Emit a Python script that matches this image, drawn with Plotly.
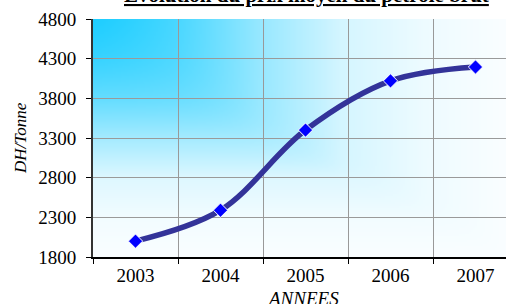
import base64
import struct
import zlib

import numpy as np
import plotly.graph_objects as go

# ---- data ----
years = ["2003", "2004", "2005", "2006", "2007"]
prix = [2000, 2390, 3400, 4020, 4195]
y_ticks = [1800, 2300, 2800, 3300, 3800, 4300, 4800]

title_text = "Evolution du prix moyen du pétrole brut"
x_title = "ANNEES"
y_title = "DH/Tonne"

SERIF = "Liberation Serif, Times New Roman, serif"

# gradient profile (fraction of cyan vs position)
grad_pos_x = [0.0, 0.2, 0.4, 0.6, 0.8, 1.0]
grad_val_x = [1.0, 0.74, 0.42, 0.17, 0.07, 0.02]
grad_pos_y = [0.0, 0.17, 0.34, 0.5, 0.67, 0.84, 1.0]
grad_val_y = [1.0, 0.82, 0.61, 0.36, 0.13, 0.05, 0.02]


# ---- background gradient image (styling only) ----
def gradient_png(w, h):
    u = np.linspace(0, 1, w)
    v = np.linspace(0, 1, h)
    g = np.interp(u, grad_pos_x, grad_val_x)[None, :]
    hh = np.interp(v, grad_pos_y, grad_val_y)[:, None]
    p = 6.0
    f = (g ** -p + hh ** -p) ** (-1.0 / p)
    f = np.clip(f * 1.08, 0, 1)
    r = 255 - f * (255 - 22)
    gg = 255 - f * (255 - 204)
    b = np.full_like(r, 255)
    img = np.stack([r, gg, b], axis=-1).astype(np.uint8)
    raw = b"".join(b"\x00" + img[i].tobytes() for i in range(h))

    def chunk(tag, data):
        c = struct.pack(">I", len(data)) + tag + data
        return c + struct.pack(">I", zlib.crc32(tag + data) & 0xFFFFFFFF)

    png = b"\x89PNG\r\n\x1a\n"
    png += chunk(b"IHDR", struct.pack(">IIBBBBB", w, h, 8, 2, 0, 0, 0))
    png += chunk(b"IDAT", zlib.compress(raw, 9))
    png += chunk(b"IEND", b"")
    return "data:image/png;base64," + base64.b64encode(png).decode()


fig = go.Figure()
fig.add_trace(
    go.Scatter(
        x=years,
        y=prix,
        mode="lines+markers",
        line=dict(color="#333399", width=5.5, shape="spline", smoothing=1.0),
        marker=dict(symbol="diamond", size=11, color="#0000FF",
                    line=dict(color="white", width=1)),
        showlegend=False,
        hoverinfo="x+y",
    )
)

plot_w = 413
plot_h = 238

fig.update_layout(
    width=506,
    height=304,
    margin=dict(l=93, r=0, t=19, b=47),
    paper_bgcolor="white",
    plot_bgcolor="white",
    font=dict(family=SERIF, color="black"),
    images=[
        dict(
            source=gradient_png(206, 119),
            xref="paper", yref="paper",
            x=0, y=1, sizex=1, sizey=1,
            xanchor="left", yanchor="top",
            sizing="stretch", layer="below",
        )
    ],
    xaxis=dict(
        type="category",
        range=[-0.5, -0.5 + plot_w / 85.0],
        tickson="boundaries",
        ticks="outside",
        ticklen=5,
        tickcolor="black",
        showline=True,
        linecolor="black",
        linewidth=1.5,
        showgrid=True,
        gridcolor="#999999",
        gridwidth=1,
        tickfont=dict(family=SERIF, size=19, color="black"),
        fixedrange=True,
    ),
    yaxis=dict(
        range=[1800, 4800],
        tickvals=y_ticks,
        ticks="outside",
        ticklen=5,
        tickcolor="black",
        showline=True,
        linecolor="#333333",
        linewidth=2,
        showgrid=True,
        gridcolor="#9a9a9a",
        gridwidth=1.2,
        zeroline=False,
        tickfont=dict(family=SERIF, size=19, color="black"),
        ticklabelstandoff=6,
        fixedrange=True,
    ),
    annotations=[
        dict(
            text="<b><u>" + title_text + "</u></b>",
            xref="paper", yref="paper", x=(306 - 93) / plot_w, y=1 + 10 / plot_h,
            xanchor="center", yanchor="bottom", showarrow=False,
            font=dict(family=SERIF, size=21, color="black"),
        ),
        dict(
            text="<i>" + y_title + "</i>",
            xref="paper", yref="paper", x=-73 / plot_w, y=0.5,
            xanchor="center", yanchor="middle", showarrow=False, textangle=-90,
            font=dict(family=SERIF, size=17, color="black"),
        ),
        dict(
            text="<i>" + x_title + "</i>",
            xref="paper", yref="paper", x=(303 - 93) / plot_w, y=-29 / plot_h,
            xanchor="center", yanchor="top", showarrow=False,
            font=dict(family=SERIF, size=19, color="black"),
        ),
    ],
)

fig.write_html(
    "out.html",
    config={"displayModeBar": False},
    post_script="document.body.style.margin='0';",
)
